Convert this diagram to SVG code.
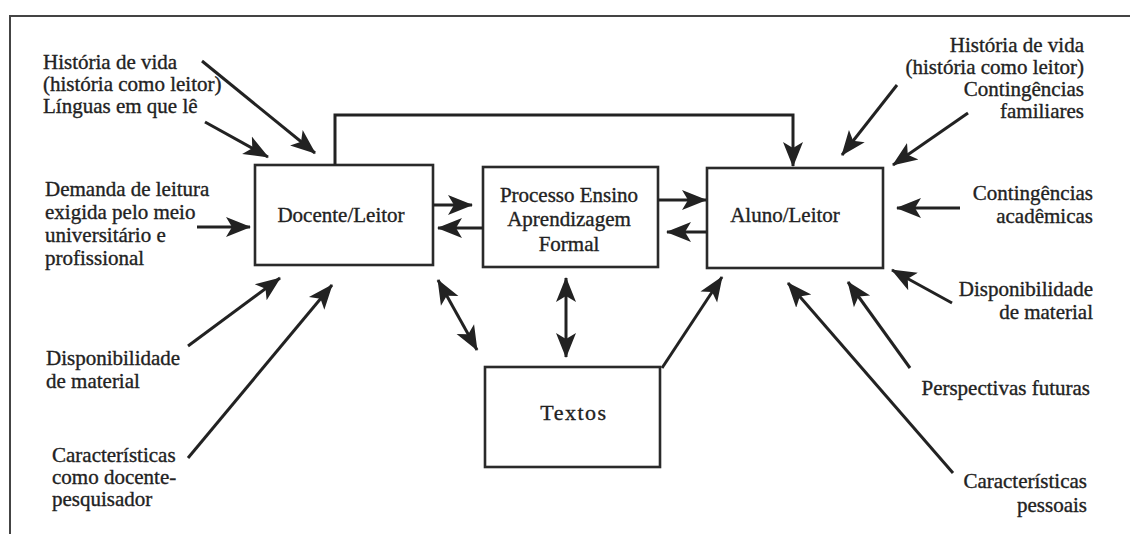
<svg xmlns="http://www.w3.org/2000/svg" width="1130" height="534" viewBox="0 0 1130 534">
<defs>
<style>
text{font-family:"Liberation Serif","Times New Roman",serif;font-size:21px;fill:#222;stroke:#222;stroke-width:0.35px}
.box{fill:#fff;stroke:#2a2a2a;stroke-width:2.6}
.c{fill:none;stroke:#222;stroke-width:3;marker-end:url(#ah)}
.d{marker-start:url(#ah)}
.mid{text-anchor:middle}
.end{text-anchor:end}
</style>
<marker id="ah" markerUnits="userSpaceOnUse" markerWidth="26" markerHeight="22" viewBox="0 0 26 22" refX="24" refY="11" orient="auto-start-reverse">
<path d="M0,1 L25,11 L0,21 L6,11 z" fill="#222"/>
</marker>
</defs>
<rect width="1130" height="534" fill="#fff"/>
<path d="M10,534 V16 H1130" fill="none" stroke="#444" stroke-width="2"/>

<g id="docente">
<rect class="box" x="255" y="165" width="178" height="100"/>
<text class="mid" x="341" y="222">Docente/Leitor</text>
</g>
<g id="processo">
<rect class="box" x="483" y="167" width="175" height="100"/>
<text class="mid" x="569" y="202">Processo Ensino</text>
<text class="mid" x="569" y="226">Aprendizagem</text>
<text class="mid" x="569" y="251">Formal</text>
</g>
<g id="aluno">
<rect class="box" x="707" y="168" width="176" height="100"/>
<text class="mid" x="785" y="222">Aluno/Leitor</text>
</g>
<g id="textos">
<rect class="box" x="485" y="367" width="175" height="100"/>
<text class="mid" x="574" y="420" style="font-size:22px;letter-spacing:1.5px">Textos</text>
</g>

<g id="left-labels">
<text x="43" y="69">História de vida</text>
<text x="43" y="91">(história como leitor)</text>
<text x="43" y="113">Línguas em que lê</text>
<text x="45" y="196">Demanda de leitura</text>
<text x="45" y="219">exigida pelo meio</text>
<text x="45" y="242">universitário e</text>
<text x="45" y="265">profissional</text>
<text x="46" y="365">Disponibilidade</text>
<text x="46" y="388">de material</text>
<text x="52" y="462">Características</text>
<text x="52" y="484">como docente-</text>
<text x="52" y="506">pesquisador</text>
</g>
<g id="right-labels">
<text class="end" x="1084" y="52">História de vida</text>
<text class="end" x="1084" y="74">(história como leitor)</text>
<text class="end" x="1084" y="96">Contingências</text>
<text class="end" x="1084" y="118">familiares</text>
<text class="end" x="1093" y="200">Contingências</text>
<text class="end" x="1093" y="223">acadêmicas</text>
<text class="end" x="1093" y="296">Disponibilidade</text>
<text class="end" x="1093" y="319">de material</text>
<text class="end" x="1090" y="395">Perspectivas futuras</text>
<text class="end" x="1087" y="488">Características</text>
<text class="end" x="1087" y="512">pessoais</text>
</g>

<g id="connectors">
<path class="c" d="M335,165 V115 H793 V166"/>
<path class="c" d="M433,205 H472"/>
<path class="c" d="M483,228 H438"/>
<path class="c" d="M658,200 H706"/>
<path class="c" d="M707,232 H667"/>
<path class="c d" d="M438,280 L477,350"/>
<path class="c d" d="M566,278 V357"/>
<path class="c" d="M662,368 L722,277"/>
<path class="c" d="M202,61 L315,153"/>
<path class="c" d="M205,122 L268,157"/>
<path class="c" d="M197,227 H250"/>
<path class="c" d="M188,346 L280,278"/>
<path class="c" d="M188,458 L332,285"/>
<path class="c" d="M897,85 L842,155"/>
<path class="c" d="M968,113 L893,165"/>
<path class="c" d="M960,208 H897"/>
<path class="c" d="M952,303 L892,270"/>
<path class="c" d="M910,368 L848,282"/>
<path class="c" d="M953,473 L788,283"/>
</g>
</svg>
